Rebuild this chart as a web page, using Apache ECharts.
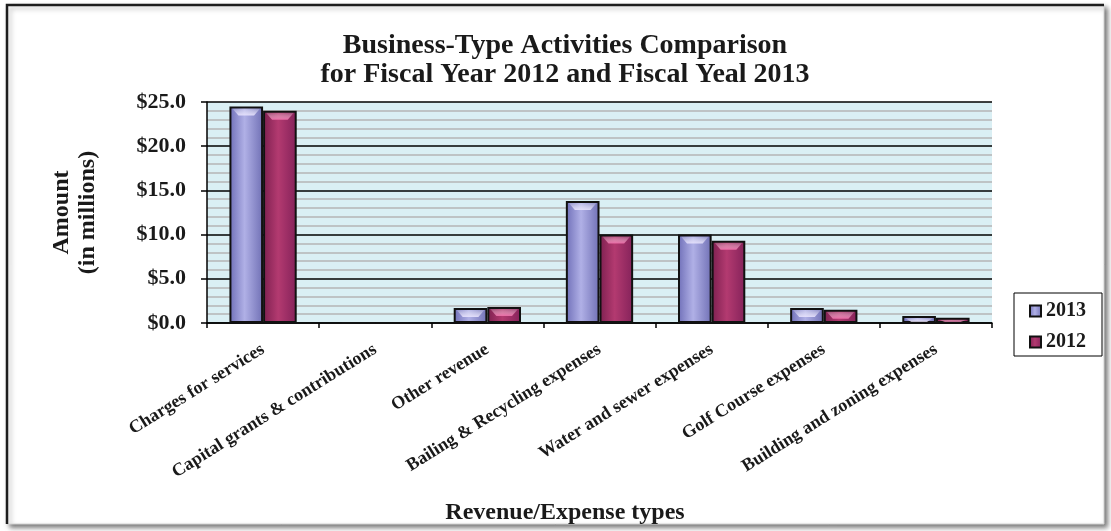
<!DOCTYPE html>
<html>
<head>
<meta charset="utf-8">
<script src="https://cdn.jsdelivr.net/npm/echarts@6/dist/echarts.min.js"></script>
<style>
  html, body { margin: 0; padding: 0; background: #ffffff; }
  #chart { width: 1111px; height: 531px; }
</style>
</head>
<body>
<div id="chart"></div>
<script>
// Revenue and expense categories (in millions of dollars)
const categories = [
  'Charges for services',
  'Capital grants & contributions',
  'Other revenue',
  'Bailing & Recycling expenses',
  'Water and sewer expenses',
  'Golf Course expenses',
  'Building and zoning expenses'
];
const values2013 = [24.5, 0, 1.7, 13.8, 10.0, 1.7, 0.8];
const values2012 = [24.0, 0, 1.8, 10.0, 9.3, 1.5, 0.6];
const seriesNames = ['2013', '2012'];
const yTicks = [0, 5, 10, 15, 20, 25];

const FONT = '"Liberation Serif", "Times New Roman", serif';
const BAR_CATEGORY_GAP = 0.4;

function barGradient(edgeL, mid, edgeR) {
  return new echarts.graphic.LinearGradient(0, 0, 1, 0, [
    { offset: 0, color: edgeL },
    { offset: 0.45, color: mid },
    { offset: 1, color: edgeR }
  ]);
}

// Bevel highlight drawn on top of each bar, positioned through the axes
function bevelRenderer(seriesIndex, tint) {
  return function (params, api) {
    const idx = api.value(0);
    const val = api.value(1);
    if (!(val > 0)) return null;
    const band = api.size([1, 0])[0];
    const barW = band * (1 - BAR_CATEGORY_GAP) / 2;
    const center = api.coord([idx, 0])[0];
    const x0 = center - barW + seriesIndex * barW;
    const x1 = x0 + barW;
    const yTop = api.coord([idx, val])[1];
    const yBase = api.coord([idx, 0])[1];
    const h = Math.min(7, yBase - yTop - 3);
    if (h <= 0.5) return null;
    const t = yTop + 2;
    return {
      type: 'polygon',
      shape: {
        points: [
          [x0 + 3, t], [x1 - 3, t], [x1 - 9, t + h], [x0 + 9, t + h]
        ]
      },
      style: {
        fill: new echarts.graphic.LinearGradient(0, 0, 0, 1, [
          { offset: 0, color: 'rgba(255,255,255,0.15)' },
          { offset: 1, color: tint }
        ])
      },
      silent: true
    };
  };
}

const chart = echarts.init(document.getElementById('chart'), null, { renderer: 'canvas' });

const option = {
  backgroundColor: '#ffffff',
  animation: false,
  graphic: [
    {
      type: 'rect',
      z: -10,
      shape: { x: 7, y: 5, width: 1097, height: 519 },
      style: {
        fill: '#ffffff',
        stroke: '#d4d4d4',
        lineWidth: 1,
        shadowColor: 'rgba(0,0,0,0.55)',
        shadowBlur: 5,
        shadowOffsetX: 3,
        shadowOffsetY: 3
      }
    },
    {
      type: 'polyline',
      z: -9,
      shape: { points: [[7, 524], [7, 5], [1104, 5]] },
      style: { stroke: '#1e1e1e', lineWidth: 2.5, fill: null }
    }
  ],
  title: [
    {
      text: 'Business-Type Activities Comparison\nfor Fiscal Year 2012 and Fiscal Yeal 2013',
      left: 565,
      top: 31,
      padding: 0,
      textAlign: 'center',
      textStyle: {
        fontFamily: FONT,
        fontWeight: 'bold',
        fontSize: 28,
        lineHeight: 29,
        color: '#1a1a1a'
      }
    },
    {
      text: 'Revenue/Expense types',
      left: 565,
      top: 499,
      padding: 0,
      textAlign: 'center',
      textStyle: {
        fontFamily: FONT,
        fontWeight: 'bold',
        fontSize: 24,
        lineHeight: 28,
        color: '#1a1a1a'
      }
    }
  ],
  legend: {
    orient: 'vertical',
    left: 1014,
    top: 293,
    padding: [8, 16, 4, 15],
    itemGap: 11,
    itemWidth: 11,
    itemHeight: 11,
    borderColor: '#000000',
    borderWidth: 1,
    backgroundColor: '#ffffff',
    icon: 'rect',
    data: seriesNames,
    textStyle: {
      fontFamily: FONT,
      fontWeight: 'bold',
      fontSize: 20,
      lineHeight: 20,
      color: '#1a1a1a',
      padding: [0, 0, 0, 0]
    }
  },
  grid: {
    left: 207,
    right: 119,
    top: 102,
    bottom: 208,
    show: true,
    backgroundColor: '#daeff4',
    borderWidth: 0
  },
  xAxis: {
    type: 'category',
    data: categories,
    axisLine: { show: true, lineStyle: { color: '#000000', width: 1.5 } },
    axisTick: { show: true, length: 5, alignWithLabel: false, lineStyle: { color: '#000000', width: 1.5 } },
    axisLabel: {
      interval: 0,
      rotate: 32,
      margin: 25,
      fontFamily: FONT,
      fontWeight: 'bold',
      fontSize: 18,
      color: '#1a1a1a'
    },
    splitLine: { show: false }
  },
  yAxis: {
    type: 'value',
    min: yTicks[0],
    max: yTicks[yTicks.length - 1],
    interval: 5,
    name: 'Amount\n(in millions)',
    nameLocation: 'middle',
    nameRotate: 90,
    nameGap: 106,
    nameTextStyle: {
      fontFamily: FONT,
      fontWeight: 'bold',
      fontSize: 24,
      lineHeight: 26,
      color: '#1a1a1a'
    },
    axisLine: { show: true, lineStyle: { color: '#000000', width: 1.5 } },
    axisTick: { show: true, length: 6, lineStyle: { color: '#000000', width: 1.5 } },
    axisLabel: {
      margin: 21,
      fontFamily: FONT,
      fontWeight: 'bold',
      fontSize: 22,
      color: '#1a1a1a',
      formatter: v => '$' + v.toFixed(1)
    },
    splitLine: { show: true, lineStyle: { color: '#000000', width: 1.5 } },
    minorTick: { show: false, splitNumber: 5 },
    minorSplitLine: { show: true, lineStyle: { color: '#b5b5b5', width: 1.5 } }
  },
  series: [
    {
      name: seriesNames[0],
      type: 'bar',
      data: values2013,
      barGap: '0%',
      barCategoryGap: (BAR_CATEGORY_GAP * 100) + '%',
      itemStyle: {
        color: barGradient('#6f6fb8', '#b0b0e6', '#7070b5'),
        borderColor: '#111111',
        borderWidth: 2
      }
    },
    {
      name: seriesNames[1],
      type: 'bar',
      data: values2012,
      barGap: '0%',
      barCategoryGap: (BAR_CATEGORY_GAP * 100) + '%',
      itemStyle: {
        color: barGradient('#7d2050', '#b33a70', '#84225a'),
        borderColor: '#111111',
        borderWidth: 2
      }
    },
    {
      type: 'custom',
      silent: true,
      z: 3,
      renderItem: bevelRenderer(0, 'rgba(235,230,255,0.85)'),
      data: values2013.map((v, i) => [i, v])
    },
    {
      type: 'custom',
      silent: true,
      z: 3,
      renderItem: bevelRenderer(1, 'rgba(240,110,170,0.9)'),
      data: values2012.map((v, i) => [i, v])
    }
  ]
};

chart.setOption(option);
</script>
</body>
</html>
